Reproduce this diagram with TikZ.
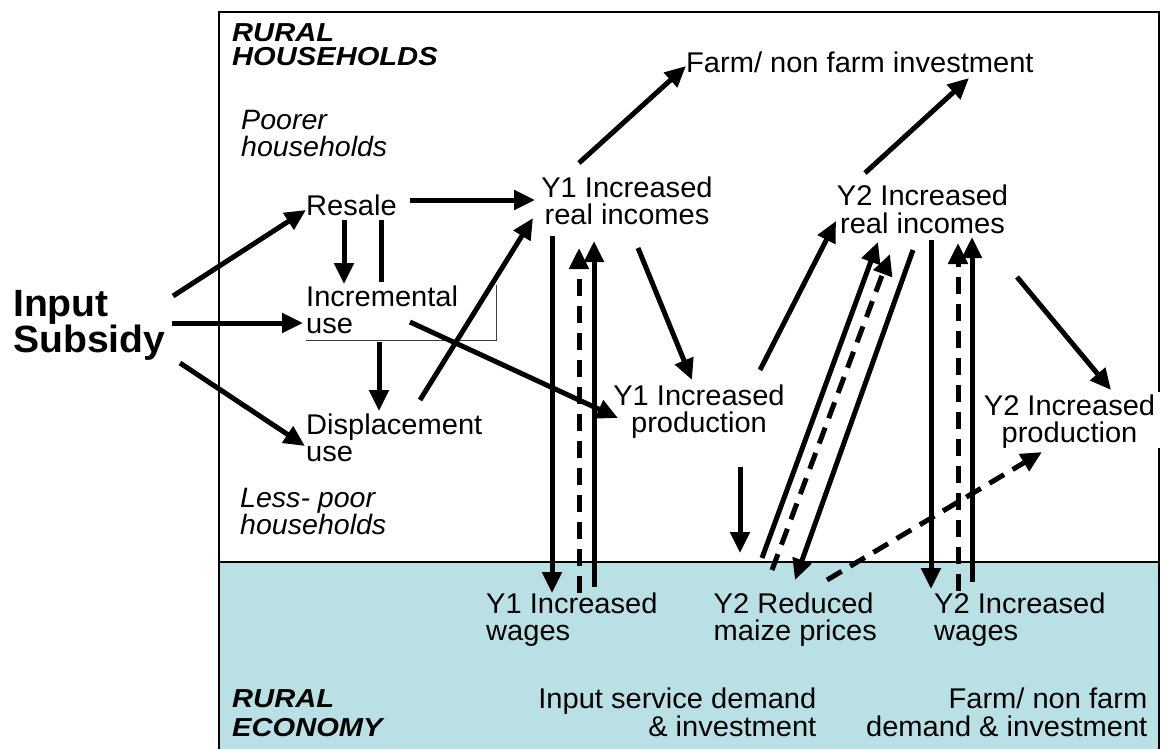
\documentclass[tikz,border=0pt]{standalone}
\usepackage{fontspec}
\setmainfont{Liberation Sans}[FakeStretch=1.02]
\newfontfamily\subfont{Liberation Sans}[FakeStretch=1.03]
\newfontfamily\hdfont{Liberation Sans}[FakeStretch=1.12]
\usetikzlibrary{arrows.meta}
\definecolor{econ}{RGB}{185,224,228}
\begin{document}
\begin{tikzpicture}[x=1pt,y=-1pt,
  txt/.style={inner sep=0pt, anchor=north west, align=left, font=\fontsize{28.5}{27}\selectfont},
  ctxt/.style={txt, anchor=north, align=center},
  rtxt/.style={txt, anchor=north east, align=right},
  hd/.style={inner sep=0pt, anchor=north west, align=left, font=\hdfont\bfseries\itshape\fontsize{26}{24}\selectfont},
  sub/.style={txt, font=\itshape\fontsize{28}{27}\selectfont},
  arr/.style={line width=5pt, -{Triangle[length=21pt,width=19pt]}},
  dsh/.style={arr, dash pattern=on 17pt off 10pt},
  thin/.style={line width=0.8pt, black!75}]
\useasboundingbox (0,0) rectangle (1162,748);
% panels
\fill[econ] (219,562) rectangle (1159,749);
\draw[line width=1.4pt] (219,749) -- (219,12) -- (1159,12) -- (1159,749);
\draw[line width=1.4pt] (219,562) -- (1159,562);
\fill[white] (1140,392) rectangle (1162,448);
% region labels
\node[hd] (rh) at (232,23.5) {RURAL\\HOUSEHOLDS};
\node[hd, font=\hdfont\bfseries\itshape\fontsize{26}{28.5}\selectfont] (re) at (232,689.5) {RURAL\\ECONOMY};
\node[sub] (poor) at (241,110) {Poorer\\households};
\node[sub] (lpoor) at (240,488.5) {Less- poor\\households};
\node[inner sep=0pt, anchor=north west, align=left, font=\subfont\bfseries\fontsize{38}{35}\selectfont] (subs) at (13,290) {Input\\Subsidy};
% nodes
\node[txt] (resale) at (306,194.5) {Resale};
\node[txt] (incr) at (306,285.5) {Incremental\\use};
\node[txt] (displ) at (306,413.5) {Displacement\\use};
\node[ctxt, font=\fontsize{28.5}{26.5}\selectfont] (y1ri) at (627,177) {Y1 Increased\\real incomes};
\node[txt] (farm1) at (686,51.5) {Farm/ non farm investment};
\node[ctxt, font=\fontsize{28.5}{28}\selectfont] (y2ri) at (922.5,184.5) {Y2 Increased\\real incomes};
\node[ctxt] (y1prod) at (699,384.5) {Y1 Increased\\production};
\node[ctxt] (y2prod) at (1069.5,394.5) {Y2 Increased\\production};
\node[txt] (y1w) at (486,592.5) {Y1 Increased\\wages};
\node[txt] (y2m) at (713.5,592.5) {Y2 Reduced\\maize prices};
\node[txt] (y2w) at (934,592.5) {Y2 Increased\\wages};
\node[rtxt, font=\fontsize{28.5}{28.5}\selectfont] (isd) at (816.5,687.5) {Input service demand\\\& investment};
\node[rtxt, font=\fontsize{28.5}{28.5}\selectfont] (fnf) at (1147.5,687.5) {Farm/ non farm\\demand \& investment};
% thin outline of incremental-use box
\coordinate (ib1) at (306,340);
\coordinate (ib2) at (496,340);
\coordinate (ib3) at (496,285);
\draw[thin] (ib1) -- (ib2) -- (ib3);
% connector end points
\coordinate (s1) at (173,296);  \coordinate (t1) at (306,210);
\coordinate (s2) at (172,323);  \coordinate (t2) at (303,323);
\coordinate (s3) at (180,363);  \coordinate (t3) at (305,446);
\coordinate (s4) at (410,200);  \coordinate (t4) at (535,200);
\coordinate (s5) at (344,220);  \coordinate (t5) at (344,284);
\coordinate (s6) at (381,220);  \coordinate (t6) at (381,282);
\coordinate (s7) at (379,342);  \coordinate (t7) at (379,411);
\coordinate (s8) at (420,400);  \coordinate (t8) at (533,218);
\coordinate (s9) at (410,322);  \coordinate (t9) at (618,418);
\coordinate (s10) at (579,163); \coordinate (t10) at (686,66);
\coordinate (s11) at (638,248); \coordinate (t11) at (692,380);
\coordinate (s12) at (552,236); \coordinate (t12) at (552,593);
\coordinate (s13) at (579,593); \coordinate (t13) at (579,248);
\coordinate (s14) at (594,587); \coordinate (t14) at (594,241);
\coordinate (s15) at (740,467); \coordinate (t15) at (740,553);
\coordinate (s16) at (760,370); \coordinate (t16) at (836,221);
\coordinate (s17) at (865,173); \coordinate (t17) at (969,78);
\coordinate (s18) at (762,558); \coordinate (t18) at (878,242);
\coordinate (s19) at (772,570); \coordinate (t19) at (890,254);
\coordinate (s20) at (913,250); \coordinate (t20) at (795,580);
\coordinate (s21) at (931,240); \coordinate (t21) at (931,589);
\coordinate (s22) at (958,591); \coordinate (t22) at (958,243);
\coordinate (s23) at (972,582); \coordinate (t23) at (972,237);
\coordinate (s24) at (1017,277); \coordinate (t24) at (1111,390);
\coordinate (s25) at (827,580); \coordinate (t25) at (1042,452);
% connectors
\draw[arr] (s1) -- (t1);
\draw[arr] (s2) -- (t2);
\draw[arr] (s3) -- (t3);
\draw[arr] (s4) -- (t4);
\draw[arr] (s5) -- (t5);
\draw[line width=5pt] (s6) -- (t6);
\draw[arr] (s7) -- (t7);
\draw[arr] (s8) -- (t8);
\draw[arr] (s9) -- (t9);
\draw[arr] (s10) -- (t10);
\draw[arr] (s11) -- (t11);
\draw[arr] (s12) -- (t12);
\draw[dsh] (s13) -- (t13);
\draw[arr] (s14) -- (t14);
\draw[arr] (s15) -- (t15);
\draw[arr] (s16) -- (t16);
\draw[arr] (s17) -- (t17);
\draw[arr] (s18) -- (t18);
\draw[dsh] (s19) -- (t19);
\draw[arr] (s20) -- (t20);
\draw[arr] (s21) -- (t21);
\draw[dsh] (s22) -- (t22);
\draw[arr] (s23) -- (t23);
\draw[arr] (s24) -- (t24);
\draw[dsh] (s25) -- (t25);
\end{tikzpicture}
\end{document}
